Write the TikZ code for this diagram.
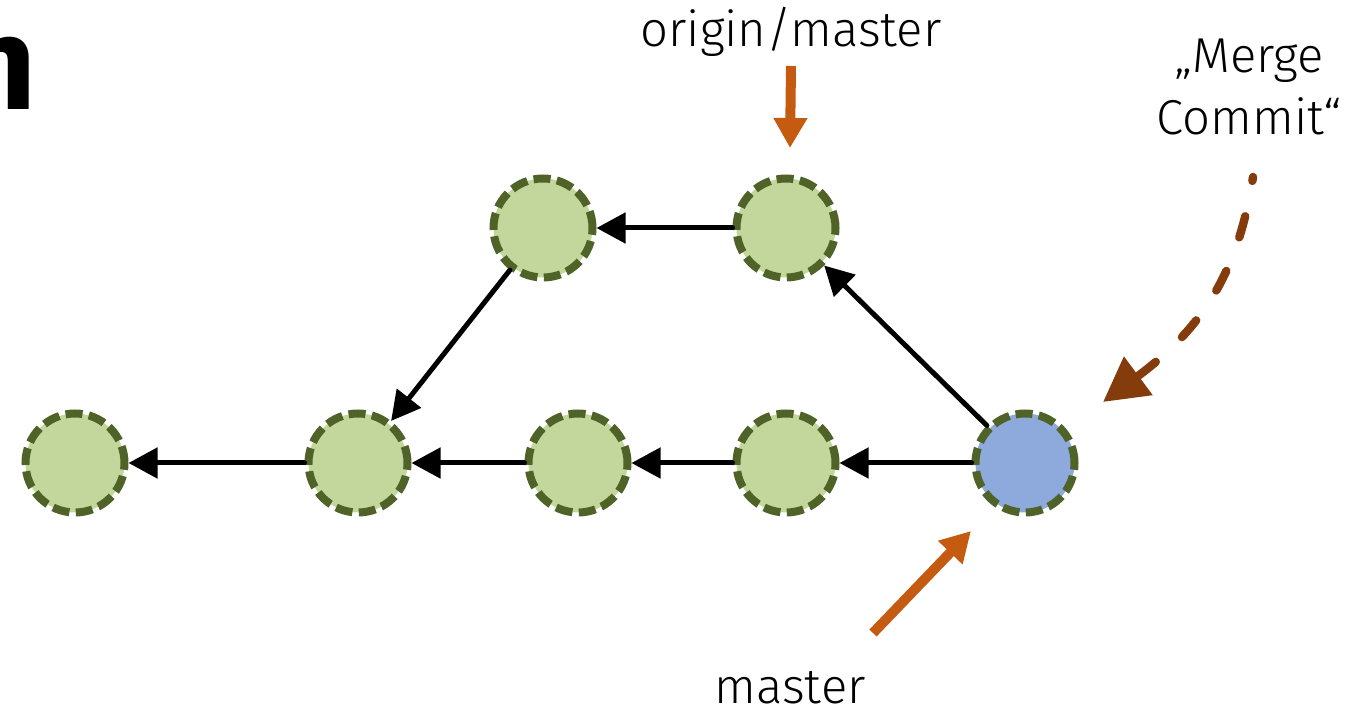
\documentclass[tikz,border=0pt]{standalone}
\usepackage{fontspec}
\setmainfont{Fira Sans Light}
\newfontfamily\headfont{Fira Sans}
\usetikzlibrary{arrows.meta}
\definecolor{commitfill}{HTML}{C3D69B}
\definecolor{commitline}{HTML}{4F6228}
\definecolor{mergefill}{HTML}{8EA9DB}
\definecolor{refarrow}{HTML}{C55A11}
\definecolor{notearrow}{HTML}{843C0C}
\tikzset{
  commit/.style={circle, minimum size=49.5pt, inner sep=0pt, fill=commitfill,
    draw=commitline, line width=4pt, dash pattern=on 8.5pt off 3.2pt},
  mergecommit/.style={commit, fill=mergefill},
  parent/.style={-{Triangle[length=14.5pt,width=15pt]}, line width=2.5pt, line cap=round},
  refptr/.style={-{Triangle[length=15pt,width=16pt]}, line width=5pt, draw=refarrow},
  note/.style={-{Triangle[length=22pt,width=23pt]}, line width=4.2pt, draw=notearrow,
    line cap=round, dash pattern=on 11pt off 18pt, dash phase=9pt},
  label/.style={font=\fontsize{24.5}{31}\selectfont, align=center, inner sep=0pt}
}
\begin{document}
\begin{tikzpicture}[x=0.5pt,y=-0.5pt]
  \useasboundingbox (0,0) rectangle (1360,710);
  \begin{scope}
    \clip (0,0) rectangle (1360,710);
    % remainder of the slide heading
    \node[anchor=base east, inner sep=0pt, font=\headfont\bfseries\fontsize{66}{70}\selectfont] (heading) at (37,110) {n};
  \end{scope}

  % commits
  \node[commit] (c1) at (75,463) {};
  \node[commit] (c2) at (358,463) {};
  \node[commit] (c3) at (578,463) {};
  \node[commit] (c4) at (786,463) {};
  \node[mergecommit] (m) at (1025,463) {};
  \node[commit] (o1) at (543,228) {};
  \node[commit] (o2) at (786,228) {};

  % parent links
  \draw[parent] (m) -- (c4);
  \draw[parent] (c4) -- (c3);
  \draw[parent] (c3) -- (c2);
  \draw[parent] (c2) -- (c1);
  \draw[parent] (m) -- (o2);
  \draw[parent] (o2) -- (o1);
  \draw[parent] (o1) -- (c2);

  % branch labels
  \node[label] (origin) at (791,32) {origin/master};
  \coordinate (originTip) at (790,148);
  \draw[refptr] (origin.south |- 0,66) -- (originTip);

  \node[label] (master) at (790,688) {master};
  \coordinate (masterTail) at (873,633);
  \coordinate (masterTip) at (971,531);
  \draw[refptr] (masterTail) -- (masterTip);

  % merge commit note
  \node[label] (mergenote) at (1249,87) {„Merge\\Commit“};
  \coordinate (noteTail) at (1253,177);
  \coordinate (noteTip) at (1103,402);
  \draw[note] (noteTail) .. controls (1238,275) and (1200,330) .. (noteTip);
\end{tikzpicture}
\end{document}
